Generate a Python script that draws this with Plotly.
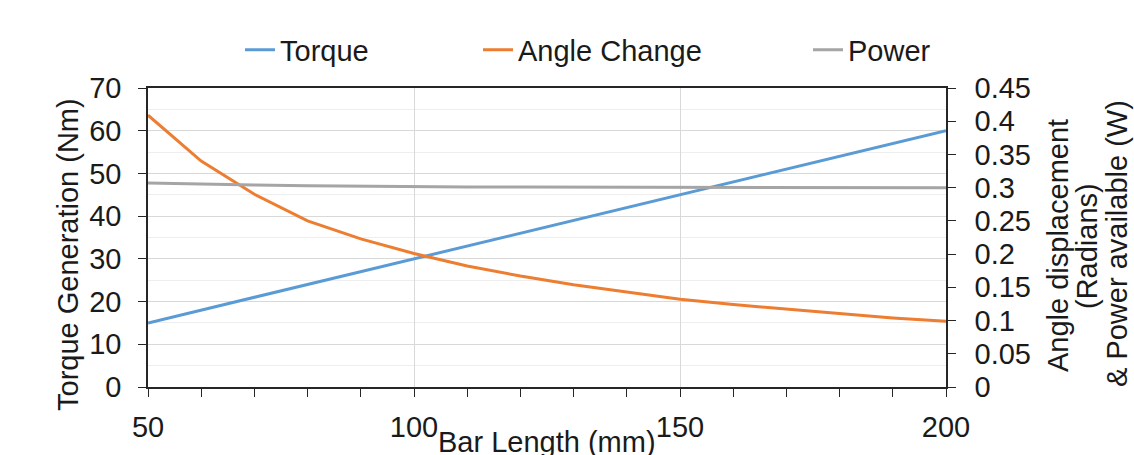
import plotly.graph_objects as go

bar_length = [50, 60, 70, 80, 90, 100, 110, 120, 130, 140, 150, 160, 170, 180, 190, 200]
torque = [15, 18, 21, 24, 27, 30, 33, 36, 39, 42, 45, 48, 51, 54, 57, 60]
angle_change = [0.409, 0.340, 0.290, 0.250, 0.223, 0.201, 0.182, 0.167, 0.154, 0.143,
                0.132, 0.124, 0.117, 0.110, 0.104, 0.099]
power = [0.307, 0.305, 0.304, 0.303, 0.302, 0.302, 0.301, 0.301, 0.301, 0.301,
         0.300, 0.300, 0.300, 0.300, 0.300, 0.300]

FONT = "Liberation Sans, Arial, sans-serif"
TXT = "#1a1a1a"
FS = 29

fig = go.Figure()
fig.add_trace(go.Scatter(x=bar_length, y=torque, name="Torque", mode="lines",
                         line=dict(color="#5B9BD5", width=3), legend="legend"))
fig.add_trace(go.Scatter(x=bar_length, y=angle_change, name="Angle Change", mode="lines",
                         line=dict(color="#ED7D31", width=3), yaxis="y2", legend="legend2"))
fig.add_trace(go.Scatter(x=bar_length, y=power, name="Power", mode="lines",
                         line=dict(color="#A5A5A5", width=3), yaxis="y2", legend="legend3"))

leg = dict(orientation="h", xanchor="left", yanchor="middle", yref="paper", xref="paper",
           font=dict(family=FONT, size=FS, color=TXT), bgcolor="rgba(0,0,0,0)",
           borderwidth=0)
W = 798.0
H = 299.0
def px(x):
    return (x - 148) / W
def py(y):
    return (387 - y) / H

fig.update_layout(
    width=1134, height=455,
    margin=dict(l=148, r=188, t=88, b=68),
    paper_bgcolor="white", plot_bgcolor="white",
    font=dict(family=FONT, size=FS, color=TXT),
    showlegend=True,
    legend=dict(leg, x=px(240), y=py(50)),
    legend2=dict(leg, x=px(478), y=py(50)),
    legend3=dict(leg, x=px(808), y=py(50)),
    xaxis=dict(range=[50, 200], dtick=50, tick0=50, showgrid=True, gridcolor="#d9d9d9",
               gridwidth=1, showline=True, linecolor="#262626", linewidth=1.5, mirror=True,
               ticks="outside", ticklen=8, tickcolor="#262626", zeroline=False,
               ticklabelstandoff=5,
               minor=dict(dtick=10, ticks="outside", ticklen=8, tickcolor="#262626",
                          showgrid=False),
               tickfont=dict(family=FONT, size=FS, color=TXT)),
    yaxis=dict(range=[0, 70], dtick=10, showgrid=True, gridcolor="#d9d9d9", gridwidth=1,
               showline=True, linecolor="#262626", linewidth=1.5, ticks="outside",
               ticklen=8, tickcolor="#262626", zeroline=False, ticklabelstandoff=11,
               minor=dict(dtick=5, showgrid=True, gridcolor="#eeeeee", gridwidth=1),
               tickfont=dict(family=FONT, size=FS, color=TXT)),
    yaxis2=dict(range=[0, 0.45], dtick=0.05, overlaying="y", side="right", showgrid=False,
                showline=True, linecolor="#262626", linewidth=1.5, ticks="outside",
                ticklen=8, tickcolor="#262626", zeroline=False, ticklabelstandoff=13,
                tickfont=dict(family=FONT, size=FS, color=TXT)),
)

ann = dict(xref="paper", yref="paper", showarrow=False,
           font=dict(family=FONT, size=FS, color=TXT))
fig.add_annotation(ann, text="Torque Generation (Nm)", x=px(68), y=py(255), textangle=-90,
                   xanchor="center", yanchor="middle")
fig.add_annotation(ann, text="Bar Length (mm)", x=0.5, y=py(442), xanchor="center",
                   yanchor="middle")
fig.add_annotation(ann, text="Angle displacement", x=px(1058), y=py(246), textangle=-90,
                   xanchor="center", yanchor="middle")
fig.add_annotation(ann, text="(Radians)", x=px(1087), y=py(246), textangle=-90,
                   xanchor="center", yanchor="middle")
fig.add_annotation(ann, text="& Power available (W)", x=px(1117), y=py(244), textangle=-90,
                   xanchor="center", yanchor="middle")

fig.write_html("out.html")
